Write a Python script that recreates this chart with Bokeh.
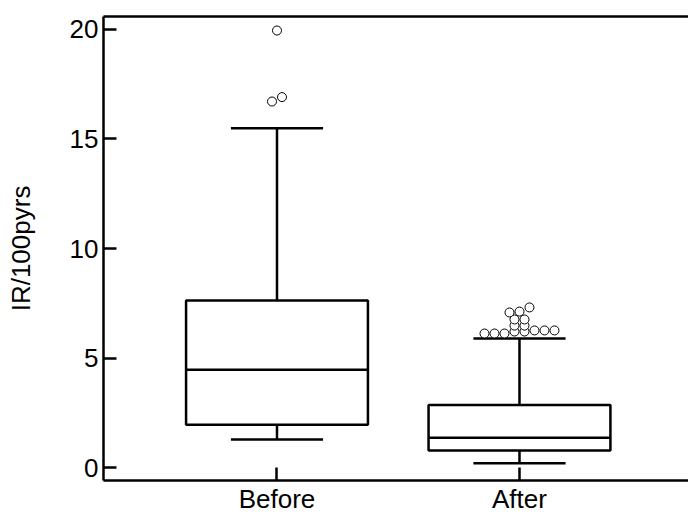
from bokeh.plotting import figure
from bokeh.models import LinearAxis, FixedTicker, Range1d, ColumnDataSource
from bokeh.embed import file_html
from bokeh.resources import INLINE

# ---- data ----
groups = ["Before", "After"]
positions = [1, 2]
q1 = [1.96, 0.78]
median = [4.47, 1.36]
q3 = [7.63, 2.86]
lower_whisker = [1.28, 0.2]
upper_whisker = [15.49, 5.89]
outliers_before = [16.71, 16.91, 19.95]
outliers_after = [6.12, 6.12, 6.12, 6.21, 6.21, 6.26, 6.26, 6.26,
                  6.48, 6.48, 6.76, 6.76, 7.08, 7.12, 7.31]
y_ticks = [0, 5, 10, 15, 20]

FONT = "Liberation Sans"
FONT_SIZE = "26px"
LW = 2.5
X_RANGE = (0.2845, 2.697)
Y_RANGE = (-0.59, 20.59)
FRAME_W = 585.0
PX_X = FRAME_W / (X_RANGE[1] - X_RANGE[0])
DOT_STEP = 10.0   # px between dots placed side by side
BIN = 0.3         # value-bin height for dot stacking


def dot_layout(vals, center):
    """Bin values; dots within a bin are spread side by side around the center."""
    vals = sorted(vals)
    lo = vals[0]
    bins = {}
    for v in vals:
        bins.setdefault(int((v - lo) / BIN), []).append(v)
    xs, ys = [], []
    for k in sorted(bins):
        b = bins[k]
        n = len(b)
        for i, v in enumerate(b):
            xs.append(center + (i - (n - 1) / 2) * DOT_STEP / PX_X)
            ys.append(v)
    return xs, ys


p = figure(width=688, height=517, output_backend="svg", toolbar_location=None,
           x_range=Range1d(*X_RANGE), y_range=Range1d(*Y_RANGE),
           min_border_left=103, min_border_right=0, min_border_top=16,
           min_border_bottom=37)
p.outline_line_color = None
p.xgrid.grid_line_color = None
p.ygrid.grid_line_color = None
p.background_fill_color = "white"
p.border_fill_color = "white"

box_w = 0.75
cap_w = 0.38

src = ColumnDataSource(dict(
    x=positions, q1=q1, med=median, q3=q3, lo=lower_whisker, hi=upper_whisker,
    left=[x - box_w / 2 for x in positions], right=[x + box_w / 2 for x in positions],
    cl=[x - cap_w / 2 for x in positions], cr=[x + cap_w / 2 for x in positions],
))

# whiskers
p.segment(x0="x", y0="q3", x1="x", y1="hi", source=src, line_color="black", line_width=LW)
p.segment(x0="x", y0="lo", x1="x", y1="q1", source=src, line_color="black", line_width=LW)
p.segment(x0="cl", y0="hi", x1="cr", y1="hi", source=src, line_color="black", line_width=LW)
p.segment(x0="cl", y0="lo", x1="cr", y1="lo", source=src, line_color="black", line_width=LW)
# boxes
p.quad(left="left", right="right", bottom="q1", top="q3", source=src,
       fill_color="white", line_color="black", line_width=LW)
p.segment(x0="left", y0="med", x1="right", y1="med", source=src, line_color="black", line_width=LW)

# outliers
bx, by = dot_layout(outliers_before, positions[0])
ax, ay = dot_layout(outliers_after, positions[1])
p.scatter(bx + ax, by + ay, marker="circle", size=9, fill_color="white",
          line_color="black", line_width=1)

# axes styling
for ax_ in (p.xaxis[0], p.yaxis[0]):
    ax_.axis_line_width = LW
    ax_.axis_line_color = "black"
    ax_.major_tick_line_width = LW
    ax_.major_tick_line_color = "black"
    ax_.major_tick_in = 13
    ax_.major_tick_out = 0
    ax_.minor_tick_line_color = None
    ax_.major_label_text_font = FONT
    ax_.major_label_text_font_size = FONT_SIZE
    ax_.major_label_text_color = "black"

p.yaxis.ticker = FixedTicker(ticks=y_ticks)
p.yaxis.major_label_standoff = 5
p.yaxis.axis_label = "IR/100pyrs"
p.yaxis.axis_label_text_font = FONT
p.yaxis.axis_label_text_font_size = FONT_SIZE
p.yaxis.axis_label_text_font_style = "normal"
p.yaxis.axis_label_text_color = "black"
p.yaxis.axis_label_standoff = 31

p.xaxis.ticker = FixedTicker(ticks=positions)
p.xaxis.major_label_overrides = {pos: g for pos, g in zip(positions, groups)}
p.xaxis.major_label_standoff = 3

top_axis = LinearAxis(ticker=FixedTicker(ticks=[]), axis_line_width=LW, axis_line_color="black",
                      major_tick_in=0, major_tick_out=0, minor_tick_line_color=None,
                      major_label_text_font_size="0px", major_label_standoff=0)
p.add_layout(top_axis, "above")

open("out.html", "w").write(file_html(p, INLINE))
